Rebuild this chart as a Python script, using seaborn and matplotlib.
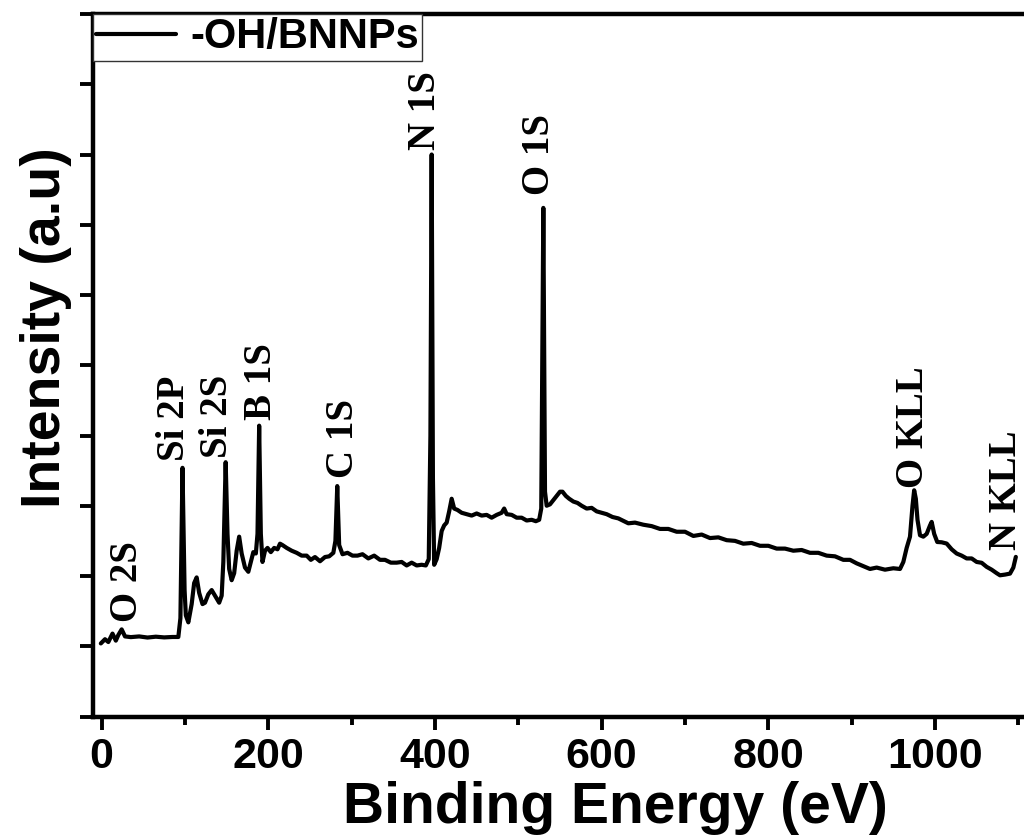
import matplotlib
matplotlib.use("Agg")
import matplotlib.pyplot as plt
import seaborn as sns
import pandas as pd
import numpy as np

# (Binding energy eV, intensity a.u.), by region
seg_low = [(-1, 0.02), (4, 0.05), (8, 0.03), (13, 0.09), (17, 0.04), (20, 0.08), (24, 0.12),
           (28, 0.07), (35, 0.065), (45, 0.07), (55, 0.062), (65, 0.068), (75, 0.063),
           (85, 0.066), (92, 0.066), (94.5, 0.2), (97, 1.27), (99.5, 0.4), (101, 0.22),
           (104, 0.17)]
seg_si_b = [(108, 0.3), (111, 0.45), (114, 0.49), (117, 0.38), (121, 0.3), (124, 0.31),
            (128, 0.37), (132, 0.4), (136, 0.36), (141, 0.31), (144, 0.36), (146, 0.6),
            (148.8, 1.31), (151, 0.8), (153, 0.55), (156, 0.47), (159, 0.52), (162, 0.68),
            (165, 0.78), (168, 0.66), (172, 0.56), (176, 0.53), (179, 0.6), (182, 0.67),
            (185, 0.66), (187, 0.8), (189, 1.57), (191, 0.8), (193, 0.6), (196, 0.68),
            (199, 0.7)]
seg_c = [(203, 0.67), (207, 0.7), (211, 0.69), (214, 0.73), (217, 0.72), (222, 0.7),
         (228, 0.68), (234, 0.665), (240, 0.645), (246, 0.645), (251, 0.615), (256, 0.635),
         (262, 0.605), (268, 0.635), (273, 0.64), (278, 0.665), (280.5, 0.75), (282.7, 1.14),
         (285, 0.72), (289, 0.655), (295, 0.665), (301, 0.645), (307, 0.645), (313, 0.655),
         (320, 0.625), (327, 0.645), (334, 0.615), (340, 0.615), (347, 0.595), (354, 0.595),
         (360, 0.6), (366, 0.575), (372, 0.595), (378, 0.575), (384, 0.58), (389, 0.575)]
seg_n = [(392.5, 0.62), (394.5, 1.5), (396, 3.5), (397.5, 1.2), (399, 0.58), (402, 0.62),
         (405, 0.7), (408, 0.82), (411, 0.86), (414, 0.88), (417, 0.96), (420, 1.05),
         (423, 0.98), (427, 0.97), (432, 0.95), (438, 0.94), (444, 0.93), (450, 0.945),
         (456, 0.93), (462, 0.935), (468, 0.915), (474, 0.935), (480, 0.95), (483, 0.98),
         (486, 0.94), (492, 0.935), (498, 0.915), (504, 0.915), (510, 0.895), (516, 0.9),
         (521, 0.89), (525, 0.9)]
seg_o = [(527.5, 0.98), (530, 3.12), (532, 1.1), (534, 1.0), (538, 1.01), (542, 1.04),
         (546, 1.07), (550, 1.1), (553, 1.1), (557, 1.07), (561, 1.05), (566, 1.03),
         (571, 1.02), (576, 1.0), (582, 0.98), (588, 0.985), (594, 0.96), (600, 0.95),
         (606, 0.94), (613, 0.92), (620, 0.91), (627, 0.89), (632, 0.875)]
seg_tail = [(640, 0.88), (650, 0.865), (660, 0.855), (670, 0.835), (680, 0.835), (690, 0.815),
            (700, 0.815), (710, 0.785), (720, 0.795), (730, 0.77), (740, 0.775), (750, 0.755),
            (760, 0.75), (770, 0.73), (780, 0.735), (790, 0.715), (800, 0.715), (810, 0.695),
            (820, 0.695), (830, 0.68), (840, 0.685), (850, 0.665), (860, 0.665), (870, 0.645),
            (880, 0.64), (890, 0.615), (898, 0.615), (906, 0.59), (914, 0.57), (922, 0.55),
            (930, 0.56), (940, 0.545), (950, 0.555), (958, 0.55)]
seg_kll = [(962, 0.6), (966, 0.7), (970, 0.78), (973, 1.0), (975, 1.11), (977, 1.05),
           (979, 0.9), (982, 0.79), (986, 0.78), (990, 0.8), (994, 0.86), (996, 0.885),
           (999, 0.8), (1002.7, 0.742), (1008, 0.74), (1014, 0.731), (1020, 0.69),
           (1026, 0.66), (1032, 0.645), (1038, 0.625), (1044, 0.625), (1050, 0.6),
           (1056, 0.594), (1062, 0.565), (1068, 0.545), (1074, 0.52), (1078, 0.505),
           (1084, 0.51), (1090, 0.517), (1094, 0.56), (1097, 0.636)]

peak_labels = ["O 2S", "Si 2P", "Si 2S", "B 1S", "C 1S", "N 1S", "O 1S", "O KLL", "N KLL"]
peak_label_x = [31, 88, 139, 192, 290, 388, 525, 974, 1086]
peak_label_y = [0.17, 1.32, 1.34, 1.61, 1.2, 3.53, 3.21, 1.125, 0.683]

x_ticks = [0, 200, 400, 600, 800, 1000]
series_name = "-OH/BNNPs"

points = seg_low + seg_si_b + seg_c + seg_n + seg_o + seg_tail + seg_kll
df = pd.DataFrame(points, columns=["Binding Energy (eV)", "Intensity"])

sns.set_style("ticks")
plt.rcParams["font.family"] = ["Liberation Sans", "DejaVu Sans"]
plt.rcParams["font.weight"] = "bold"
plt.rcParams["text.color"] = "black"
plt.rcParams["axes.labelcolor"] = "black"
plt.rcParams["xtick.color"] = "black"
plt.rcParams["ytick.color"] = "black"

fig = plt.figure(figsize=(10.24, 8.39), dpi=100)
ax = fig.add_axes([93 / 1024, 122.5 / 839, 1 - 93 / 1024, 702.5 / 839])

sns.lineplot(data=df, x="Binding Energy (eV)", y="Intensity", ax=ax, color="black",
             linewidth=3.0, estimator=None, sort=False, label=series_name)

ax.set_xlim(-10.4, 1106.8)
ax.set_ylim(-0.5, 4.5)
ax.set_xticks(x_ticks)
ax.set_xticks(np.arange(100, 1101, 200), minor=True)
ax.set_yticks(np.arange(-0.5, 4.51, 0.5))
ax.tick_params(axis="y", which="major", direction="out", length=9.4, width=2.8,
               labelleft=False, color="black")
ax.tick_params(axis="x", which="major", direction="out", length=9.7, width=2.8,
               labelsize=31, pad=5, color="black", labelcolor="black")
ax.tick_params(axis="x", which="minor", direction="out", length=5.4, width=2.8, color="black")
for lab in ax.get_xticklabels():
    lab.set_fontweight("bold")

for side in ["left", "bottom", "top"]:
    ax.spines[side].set_linewidth(3.2)
    ax.spines[side].set_color("black")
ax.spines["right"].set_visible(False)

ax.set_xlabel("Binding Energy (eV)", fontsize=41, fontweight="bold", color="black")
ax.set_ylabel("Intensity (a.u)", fontsize=40, fontweight="bold", color="black")
ax.xaxis.set_label_coords(0.5607, -0.092)
ax.yaxis.set_label_coords(-0.0226, 0.553)

for txt, px, py in zip(peak_labels, peak_label_x, peak_label_y):
    ax.text(px, py, txt, rotation=90, ha="center", va="bottom", color="black",
            fontsize=28, fontweight="bold", family=["Liberation Serif", "DejaVu Serif"])

leg = ax.legend(loc="upper left", bbox_to_anchor=(0, 1), borderaxespad=0, fancybox=False,
                frameon=True, prop={"size": 30, "weight": "bold", "family": ["Liberation Sans", "DejaVu Sans"]},
                handlelength=1.9, handletextpad=0.35, borderpad=0.08)
leg.get_frame().set_edgecolor("#333333")
leg.get_frame().set_linewidth(1.0)
leg.get_frame().set_alpha(1)
for line in leg.get_lines():
    line.set_linewidth(3.0)
for t in leg.get_texts():
    t.set_color("black")

fig.savefig("out.png", dpi=100)
